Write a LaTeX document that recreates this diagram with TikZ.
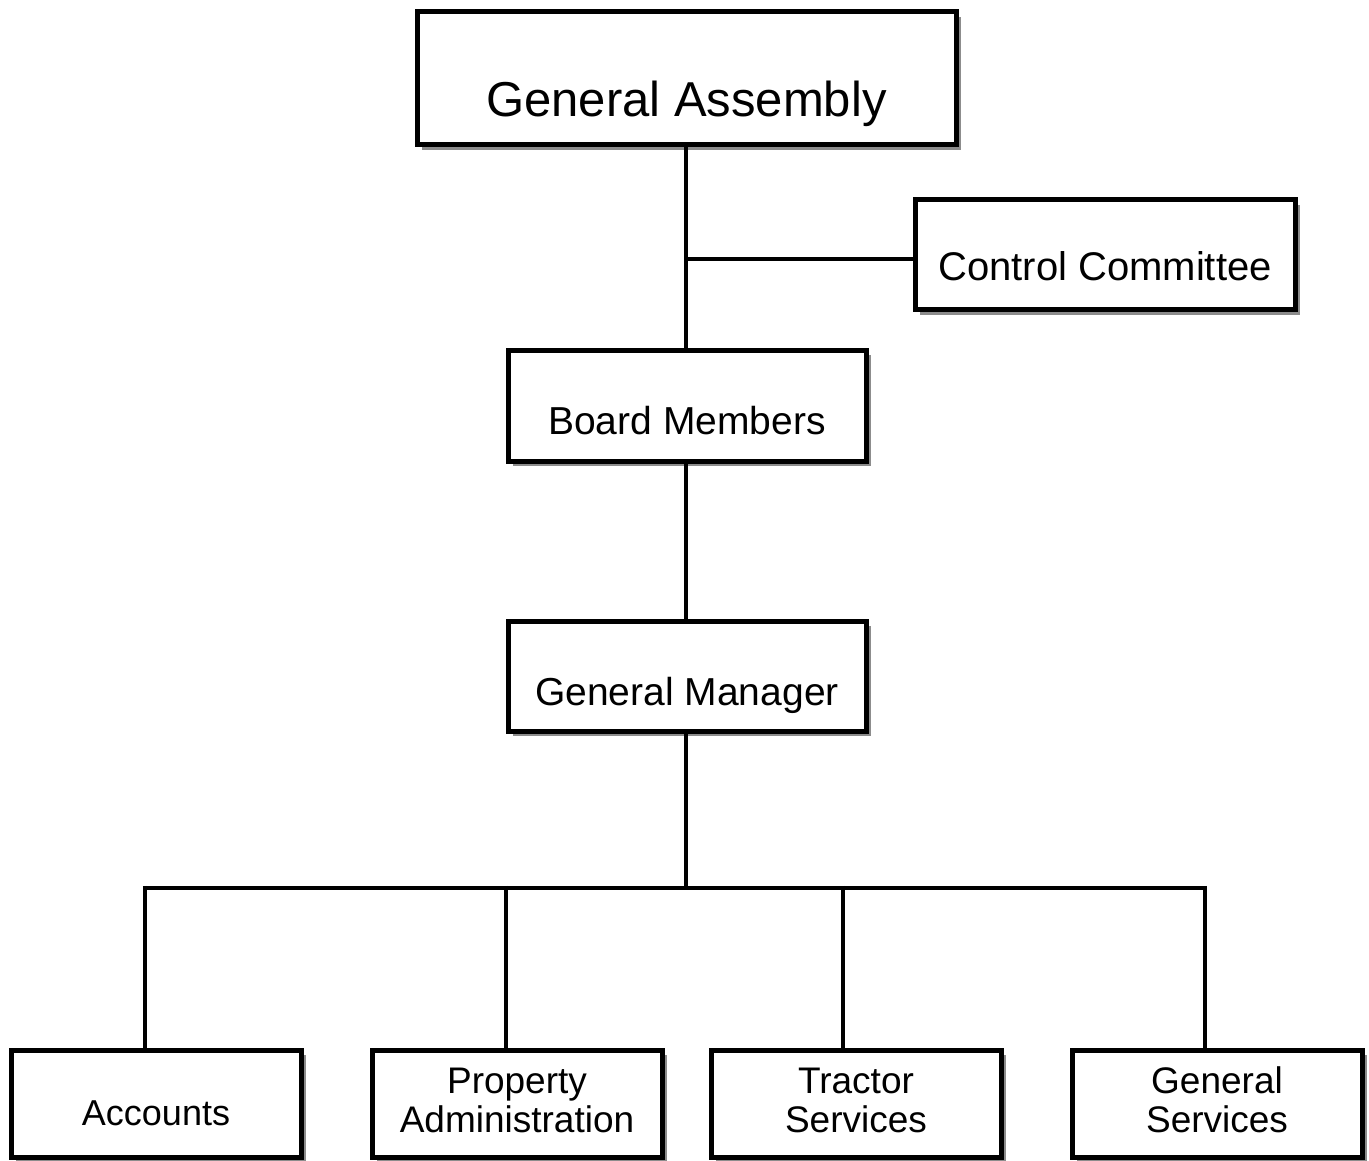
\documentclass[tikz,border=0pt]{standalone}
\usepackage{fontspec}
\setmainfont{Liberation Sans}
\usetikzlibrary{shadows}
\begin{document}
\begin{tikzpicture}[x=1pt,y=-1pt,
  box/.style={draw=black, line width=5pt, fill=white, inner sep=0pt,
    drop shadow={shadow xshift=5pt, shadow yshift=-5pt, fill=black!45, opacity=1}},
  conn/.style={line width=4.5pt},
  txt/.style={inner sep=0pt, anchor=base, align=center}]
\useasboundingbox (0,0) rectangle (1369,1161);
% boxes
\node[box, minimum width=539pt, minimum height=133pt] (ga) at (686.5,78.5) {};
\node[box, minimum width=380pt, minimum height=110pt] (cc) at (1105,255) {};
\node[box, minimum width=358pt, minimum height=111pt] (bm) at (687,405.5) {};
\node[box, minimum width=358pt, minimum height=110pt] (gm) at (687,676) {};
\node[box, minimum width=290pt, minimum height=107pt] (acc) at (156,1103.5) {};
\node[box, minimum width=290pt, minimum height=107pt] (pa) at (517,1103.5) {};
\node[box, minimum width=290pt, minimum height=107pt] (ts) at (856,1103.5) {};
\node[box, minimum width=290pt, minimum height=107pt] (gs) at (1217,1103.5) {};
% texts
\node[txt, font=\fontsize{49}{58}\selectfont] (gat) at ([yshift=-38.5pt]ga.center) {General Assembly};
\node[txt, font=\fontsize{40}{48}\selectfont] (cct) at ([yshift=-25pt]cc.center) {Control Committee};
\node[txt, font=\fontsize{39}{46}\selectfont] (bmt) at ([yshift=-29pt]bm.center) {Board Members};
\node[txt, font=\fontsize{39}{46}\selectfont] (gmt) at ([yshift=-29pt]gm.center) {General Manager};
\node[txt, font=\fontsize{36}{39}\selectfont] (acct) at ([yshift=-22pt]acc.center) {Accounts};
\node[txt, font=\fontsize{37}{39}\selectfont] (pat) at ([yshift=-28.5pt]pa.center) {Property\\Administration};
\node[txt, font=\fontsize{37}{39}\selectfont] (tst) at ([yshift=-28.5pt]ts.center) {Tractor\\Services};
\node[txt, font=\fontsize{37}{39}\selectfont] (gst) at ([yshift=-28.5pt]gs.center) {General\\Services};
% connectors
\coordinate (j) at (686,259);
\coordinate (bus) at (686,888);
\coordinate (b1) at (145,888);
\coordinate (b2) at (506,888);
\coordinate (b3) at (843,888);
\coordinate (b4) at (1205,888);
\draw[conn] (j |- ga.south) -- (j |- bm.north);
\draw[conn] (j) -- (j -| cc.west);
\draw[conn] (bus |- bm.south) -- (bus |- gm.north);
\draw[conn] (bus |- gm.south) -- (bus);
\draw[conn] ([xshift=-2.25pt]b1) -- ([xshift=2.25pt]b4);
\draw[conn] ([yshift=2.25pt]b1) -- (b1 |- acc.north);
\draw[conn] ([yshift=2.25pt]b2) -- (b2 |- pa.north);
\draw[conn] ([yshift=2.25pt]b3) -- (b3 |- ts.north);
\draw[conn] ([yshift=2.25pt]b4) -- (b4 |- gs.north);
\end{tikzpicture}
\end{document}
